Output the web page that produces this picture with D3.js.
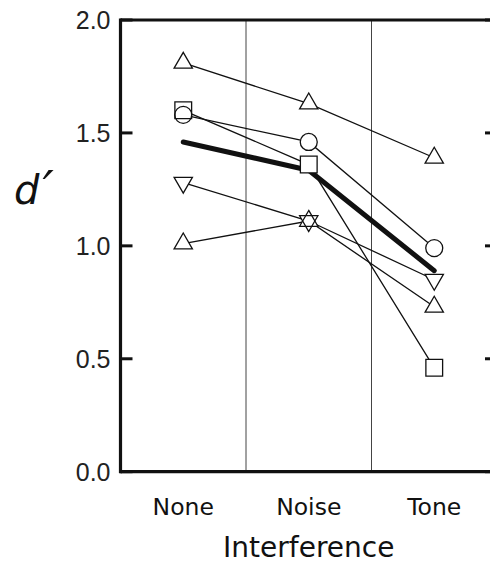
<!DOCTYPE html>
<html>
<head>
<meta charset="utf-8">
<script src="https://cdn.jsdelivr.net/npm/d3@7"></script>
<style>
  body { margin: 0; background: #fff; }
  svg { display: block; }
</style>
</head>
<body>
<script>
// Interference conditions on the x axis
var categories = ["None", "Noise", "Tone"];

// Individual listeners (marker shape + d' per condition)
var shapes = ["triUp", "circle", "square", "triDown", "triUp"];
var listenerA = [1.81, 1.63, 1.39];
var listenerB = [1.58, 1.46, 0.99];
var listenerC = [1.60, 1.36, 0.46];
var listenerD = [1.28, 1.11, 0.85];
var listenerE = [1.01, 1.11, 0.73];

// Group mean (thick line)
var meanValues = [1.46, 1.335, 0.89];

var yTicks = [0.0, 0.5, 1.0, 1.5, 2.0];

var listeners = [listenerA, listenerB, listenerC, listenerD, listenerE];

var margin = { top: 20, right: -7, bottom: 93.3, left: 120.5 },
    width = 490 - margin.left - margin.right,
    height = 565 - margin.top - margin.bottom;

var svg = d3.select("body").append("svg")
    .attr("width", 490)
    .attr("height", 565)
    .append("g")
    .attr("transform", "translate(" + margin.left + "," + margin.top + ")");

var x = d3.scaleBand()
    .domain(categories)
    .range([0, width]);

var y = d3.scaleLinear()
    .domain([0, 2])
    .range([height, 0]);

// thin separators between conditions
svg.selectAll(".sep")
    .data(categories.slice(1))
    .enter().append("line")
    .attr("x1", function(d) { return x(d); })
    .attr("x2", function(d) { return x(d); })
    .attr("y1", 0)
    .attr("y2", height)
    .attr("stroke", "#444")
    .attr("stroke-width", 1);

// frame: left, top, bottom thick
svg.append("line").attr("x1", 0).attr("x2", 0).attr("y1", -1.5).attr("y2", height + 1.5)
    .attr("stroke", "#111").attr("stroke-width", 3.2);
svg.append("line").attr("x1", 0).attr("x2", width).attr("y1", 0).attr("y2", 0)
    .attr("stroke", "#111").attr("stroke-width", 3.2);
svg.append("line").attr("x1", 0).attr("x2", width).attr("y1", height).attr("y2", height)
    .attr("stroke", "#111").attr("stroke-width", 3.2);

// inward ticks on both sides
svg.selectAll(".ltick")
    .data(yTicks)
    .enter().append("line")
    .attr("x1", 0).attr("x2", 12)
    .attr("y1", function(d) { return y(d); })
    .attr("y2", function(d) { return y(d); })
    .attr("stroke", "#111").attr("stroke-width", 3);

svg.selectAll(".rtick")
    .data(yTicks)
    .enter().append("line")
    .attr("x1", width - 12).attr("x2", width)
    .attr("y1", function(d) { return y(d); })
    .attr("y2", function(d) { return y(d); })
    .attr("stroke", "#111").attr("stroke-width", 3);

// tick labels
svg.selectAll(".ylab")
    .data(yTicks)
    .enter().append("text")
    .attr("x", -10)
    .attr("y", function(d) { return y(d); })
    .attr("dy", "0.36em")
    .attr("text-anchor", "end")
    .style("font-family", "'Liberation Sans', Arial, sans-serif")
    .style("font-size", "25px")
    .style("fill", "#222")
    .text(function(d) { return d3.format(".1f")(d); });

// category labels
svg.selectAll(".xlab")
    .data(categories)
    .enter().append("text")
    .attr("x", function(d) { return x(d) + x.bandwidth() / 2; })
    .attr("y", height + 43.5)
    .attr("text-anchor", "middle")
    .style("font-family", "'DejaVu Sans', sans-serif")
    .style("font-size", "23.5px")
    .style("fill", "#111")
    .text(function(d) { return d; });

// axis titles
svg.append("text")
    .attr("x", width / 2)
    .attr("y", height + 85)
    .attr("text-anchor", "middle")
    .style("font-family", "'DejaVu Sans', sans-serif")
    .style("font-size", "28px")
    .style("fill", "#111")
    .text("Interference");

var dLabel = svg.append("text")
    .attr("x", 14 - margin.left)
    .attr("y", y(1.25) + 15)
    .style("font-family", "'DejaVu Sans', sans-serif")
    .style("font-style", "oblique")
    .style("font-size", "40px")
    .style("fill", "#111");
dLabel.append("tspan").text("d");
dLabel.append("tspan")
    .attr("dx", 3)
    .attr("dy", 2)
    .style("font-size", "50px")
    .text("\u2032");

var cx = function(i) { return x(categories[i]) + x.bandwidth() / 2; };

var line = d3.line()
    .x(function(d, i) { return cx(i); })
    .y(function(d) { return y(d); });

// individual lines
svg.selectAll(".ind")
    .data(listeners)
    .enter().append("path")
    .attr("fill", "none")
    .attr("stroke", "#111")
    .attr("stroke-width", 1.3)
    .attr("d", line);

// mean line
svg.append("path")
    .datum(meanValues)
    .attr("fill", "none")
    .attr("stroke", "#111")
    .attr("stroke-width", 5)
    .attr("stroke-linecap", "round")
    .attr("stroke-linejoin", "round")
    .attr("d", line);

var symbolFor = {
    triUp: d3.symbol().type(d3.symbolTriangle).size(145)(),
    triDown: d3.symbol().type(d3.symbolTriangle).size(145)(),
    circle: d3.symbol().type(d3.symbolCircle).size(227)(),
    square: d3.symbol().type(d3.symbolSquare).size(280)()
};

var points = [];
listeners.forEach(function(vals, s) {
    vals.forEach(function(v, i) {
        points.push({ shape: shapes[s], x: cx(i), y: y(v) });
    });
});

function place(d) {
    return "translate(" + d.x + "," + d.y + ")" + (d.shape === "triDown" ? " rotate(180)" : "");
}

// white backing first, then outlines so overlapping markers both show
svg.selectAll(".mfill")
    .data(points)
    .enter().append("path")
    .attr("d", function(d) { return symbolFor[d.shape]; })
    .attr("transform", place)
    .attr("fill", "#fff")
    .attr("stroke", "none");

svg.selectAll(".mline")
    .data(points)
    .enter().append("path")
    .attr("d", function(d) { return symbolFor[d.shape]; })
    .attr("transform", place)
    .attr("fill", "none")
    .attr("stroke", "#111")
    .attr("stroke-width", 1.3);
</script>
</body>
</html>
